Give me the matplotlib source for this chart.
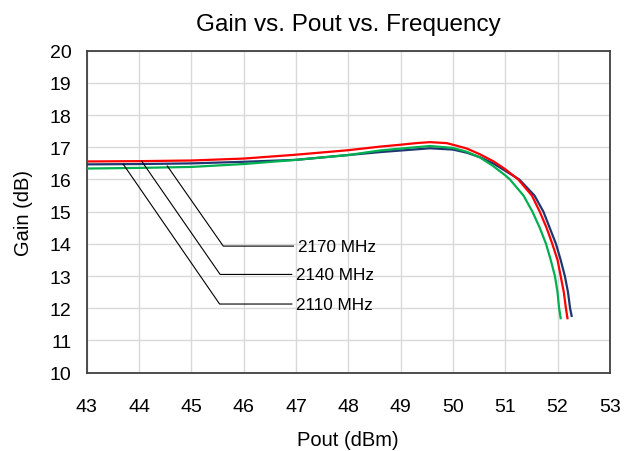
import matplotlib
matplotlib.use("Agg")
import matplotlib.pyplot as plt

plt.rcParams['font.family'] = ['Liberation Sans', 'DejaVu Sans']

# Pout (dBm) / Gain (dB) readings
x_2110 = [43.0, 44.0, 45.0, 46.0, 47.0, 48.0, 48.6, 49.0, 49.56, 50.0, 50.27, 50.52, 50.78, 51.0,
          51.27, 51.56, 51.73, 51.85, 51.97, 52.06, 52.14, 52.2, 52.24, 52.27]
g_2110 = [16.47, 16.48, 16.50, 16.55, 16.61, 16.76, 16.85, 16.90, 16.97, 16.93, 16.83, 16.69, 16.49, 16.27,
          16.0, 15.5, 15.0, 14.5, 14.0, 13.5, 13.0, 12.5, 12.0, 11.76]

x_2140 = [43.0, 44.0, 45.0, 46.0, 46.5, 47.0, 48.0, 48.6, 49.0, 49.3, 49.56, 49.88, 50.0, 50.27, 50.52,
          50.78, 51.0, 51.25, 51.51, 51.66, 51.79, 51.9, 52.0, 52.06, 52.12, 52.16, 52.19]
g_2140 = [16.56, 16.57, 16.59, 16.65, 16.71, 16.77, 16.91, 17.02, 17.08, 17.13, 17.16, 17.13, 17.08, 16.96, 16.78,
          16.56, 16.32, 16.0, 15.5, 15.0, 14.5, 14.0, 13.5, 13.0, 12.5, 12.0, 11.69]

x_2170 = [43.0, 44.0, 45.0, 46.0, 47.0, 48.0, 48.6, 49.0, 49.56, 50.0, 50.27, 50.52, 50.75, 51.0,
          51.09, 51.35, 51.52, 51.66, 51.78, 51.87, 51.95, 52.0, 52.03, 52.06]
g_2170 = [16.34, 16.36, 16.39, 16.48, 16.61, 16.76, 16.90, 16.96, 17.04, 16.98, 16.86, 16.68, 16.44, 16.13,
          16.0, 15.5, 15.0, 14.5, 14.0, 13.5, 13.0, 12.5, 12.0, 11.69]

labels = ["2110 MHz", "2140 MHz", "2170 MHz"]
# leader lines: curve point, elbow, end of horizontal
leader_start = [(43.70, 16.47), (44.05, 16.57), (44.54, 16.42)]
leader_elbow = [(45.54, 12.13), (45.55, 13.05), (45.61, 13.93)]
leader_end_x = [46.92, 46.92, 46.95]

xticks = list(range(43, 54))
yticks = list(range(10, 21))

fig = plt.figure(figsize=(6.24, 4.52), dpi=100)
ax = fig.add_axes([0.139, 0.1735, 0.8383, 0.712])

ax.plot(x_2110, g_2110, color='#1F3670', lw=1.6, zorder=3)
ax.plot(x_2170, g_2170, color='#00B050', lw=1.6, zorder=3)
ax.plot(x_2140, g_2140, color='#FF0000', lw=1.6, zorder=4)

for (sx, sy), (ex, ey), hx, lab in zip(leader_start, leader_elbow, leader_end_x, labels):
    ax.plot([sx, ex, hx], [sy, ey, ey], color='black', lw=0.8, zorder=5)
    ax.text(hx + 0.08, ey, lab, fontsize=12.3, va='center', ha='left', color='black')

ax.set_xlim(43, 53)
ax.set_ylim(10, 20)
ax.set_xticks(xticks)
ax.set_yticks(yticks)
ax.tick_params(length=0, labelsize=14)
ax.tick_params(axis='x', pad=18)
ax.tick_params(axis='y', pad=11)
ax.grid(True, color='#D9D9D9', lw=1.0)
ax.set_axisbelow(True)
for s in ax.spines.values():
    s.set_color('#404040')
    s.set_linewidth(1.3)

ax.set_xlabel('Pout (dBm)', fontsize=14.5, labelpad=11)
ax.set_ylabel('Gain (dB)', fontsize=14.5, labelpad=12)
ax.set_title('Gain vs. Pout vs. Frequency', fontsize=17.5, pad=15)

fig.savefig('out.png', dpi=100)
